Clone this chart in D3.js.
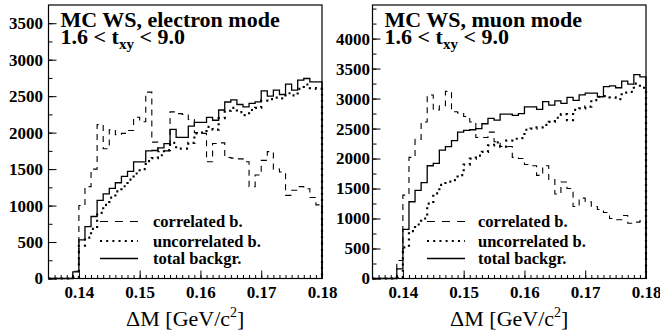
<!DOCTYPE html>
<html><head><meta charset="utf-8">
<script src="https://cdn.jsdelivr.net/npm/d3@7/dist/d3.min.js"></script>
<style>
body{margin:0;background:#fff;}
svg{display:block;}
</style></head>
<body>
<svg id="c" width="660" height="332"></svg>
<script>
// bin lower edges: 0.135 ... 0.179, width 0.001
const binLow = d3.range(45).map(i => +(0.135 + i * 0.001).toFixed(3));
const binWidth = 0.001;

// electron mode
const eCorr = [0,0,0,0,100,1000,1260,1500,2110,1780,2040,1970,1990,2030,2210,2150,2555,1870,1740,1750,2285,2260,2250,2180,2000,1990,1600,1850,1860,1660,1650,1640,1600,1260,1420,1620,1740,1500,1460,1140,1210,1260,1230,1110,1010];
const eUnc  = [0,0,0,0,10,450,560,680,900,1010,1110,1195,1265,1355,1440,1500,1610,1650,1690,1760,1860,1780,1780,1860,1990,2000,2080,2040,2200,2300,2340,2280,2240,2310,2340,2440,2460,2480,2470,2540,2510,2600,2660,2610,2600];
const eTot  = [0,0,0,0,90,530,710,850,1070,1160,1235,1313,1400,1470,1600,1600,1750,1755,1790,1850,2045,1935,1935,2090,2140,2140,2210,2170,2310,2420,2450,2386,2354,2400,2422,2573,2500,2582,2523,2665,2582,2719,2742,2696,2696];

// muon mode
const mCorr = [0,0,0,0,300,1390,2020,2320,2610,3060,2810,2880,3120,2780,2760,2700,2610,2350,2350,2440,2280,2200,2200,2020,2000,1900,1880,1720,1880,1650,1410,1610,1500,1200,1340,1280,1200,1150,1100,1000,980,1050,920,940,960];
const mUnc  = [0,0,0,0,10,520,790,900,1000,1250,1420,1560,1614,1640,1725,1900,2000,2050,2110,2220,2270,2200,2300,2330,2340,2480,2500,2520,2560,2610,2680,2740,2640,2810,2836,2864,2975,3030,3040,3020,2990,3100,3110,3250,3180];
const mTot  = [0,0,0,0,160,820,1280,1470,1600,1880,1920,2140,2200,2300,2440,2470,2480,2500,2580,2670,2640,2740,2740,2720,2750,2860,2860,2820,2950,2890,2960,2920,3020,2970,3060,3090,3090,3030,3200,3210,3180,3290,3240,3400,3360];

const xTicks = [0.14, 0.15, 0.16, 0.17, 0.18];
const yTicksE = [0,500,1000,1500,2000,2500,3000,3500];
const yTicksM = [0,500,1000,1500,2000,2500,3000,3500,4000];
const titles = ["MC WS, electron mode", "MC WS, muon mode"];
const legendLabels = ["correlated b.", "uncorrelated b.", "total backgr."];
const xTitle = "\u0394M [GeV/c";

const FONT = "Liberation Serif";
const styles = [
  {dash:"6,5", w:1.1},
  {dash:"2,4.2", w:2.2},
  {dash:null, w:1.3}
];

const svg = d3.select("#c");

const panels = [
  {x0:48.5, x1:322, ymax:3750, yt:yTicksE, series:[eCorr,eUnc,eTot], title:titles[0], labelEnd:43, leg:[100,138,153]},
  {x0:372.5, x1:646, ymax:4560, yt:yTicksM, series:[mCorr,mUnc,mTot], title:titles[1], labelEnd:370, leg:[427,465,478]}
];
const plotTop = 5, plotBottom = 278.5;

panels.forEach(p => {
  const g = svg.append("g").attr("font-family", FONT);
  const x = d3.scaleLinear().domain([0.135, 0.18]).range([p.x0, p.x1]);
  const y = d3.scaleLinear().domain([0, p.ymax]).range([plotBottom, plotTop]);

  // histograms
  const line = d3.line().x(d => x(d[0])).y(d => y(d[1]));
  p.series.forEach((vals, si) => {
    const pts = [[binLow[0], 0]];
    vals.forEach((v, i) => { pts.push([binLow[i], v]); pts.push([binLow[i] + binWidth, v]); });
    pts.push([binLow[binLow.length-1] + binWidth, 0]);
    const path = g.append("path").attr("d", line(pts))
      .attr("fill","none").attr("stroke","#000")
      .attr("stroke-width", styles[si].w);
    if (styles[si].dash) path.attr("stroke-dasharray", styles[si].dash);
  });

  // frame
  g.append("rect").attr("x", p.x0).attr("y", plotTop).attr("width", p.x1 - p.x0).attr("height", plotBottom - plotTop)
    .attr("fill","none").attr("stroke","#000").attr("stroke-width",1.2);

  // y axis
  const yMinor = d3.range(0, p.ymax, 250);
  const ayMinor = d3.axisLeft(y).tickValues(yMinor).tickSizeInner(-4).tickSizeOuter(0).tickFormat("");
  const gm = g.append("g").attr("transform",`translate(${p.x0},0)`).call(ayMinor);
  gm.select(".domain").remove();
  gm.selectAll("line").attr("stroke","#000").attr("stroke-width",1);
  const ay = d3.axisLeft(y).tickValues(p.yt).tickSizeInner(-8).tickSizeOuter(0)
    .tickFormat(d3.format("d"));
  const ga = g.append("g").attr("transform",`translate(${p.x0},0)`).call(ay);
  ga.attr("font-family", FONT);
  ga.select(".domain").remove();
  ga.selectAll("line").attr("stroke","#000").attr("stroke-width",1);
  ga.selectAll("text").attr("font-size",17).attr("font-weight","bold").attr("fill","#000")
    .attr("x", -(p.x0 - p.labelEnd));

  // x axis
  const axMinor = d3.axisBottom(x).tickValues(binLow.slice(1)).tickSizeInner(-3.5).tickSizeOuter(0).tickFormat("");
  const gxm = g.append("g").attr("transform",`translate(0,${plotBottom})`).call(axMinor);
  gxm.select(".domain").remove();
  gxm.selectAll("line").attr("stroke","#000").attr("stroke-width",1);
  const ax = d3.axisBottom(x).tickValues(xTicks).tickSizeInner(-8).tickSizeOuter(0)
    .tickFormat(d3.format(".2f"));
  const gx = g.append("g").attr("transform",`translate(0,${plotBottom})`).call(ax);
  gx.attr("font-family", FONT);
  gx.select(".domain").remove();
  gx.selectAll("line").attr("stroke","#000").attr("stroke-width",1);
  gx.selectAll("text").attr("font-size",17).attr("font-weight","bold").attr("fill","#000")
    .attr("y", 7);

  // x title
  const xt = g.append("text").attr("x",(p.x0+p.x1)/2).attr("y",326).attr("text-anchor","middle")
    .attr("font-size",22).attr("fill","#000");
  xt.append("tspan").text(xTitle);
  xt.append("tspan").attr("font-size",14).attr("dy",-9).text("2");
  xt.append("tspan").attr("dy",9).text("]");

  // title
  const tx = p.x0 + 12;
  g.append("text").attr("x",tx).attr("y",26.5).attr("font-size",22).attr("font-weight","bold").text(p.title);
  const t2 = g.append("text").attr("x",tx).attr("y",43.5).attr("font-size",22).attr("font-weight","bold");
  t2.append("tspan").text("1.6 < t");
  t2.append("tspan").attr("font-size",15).attr("dy",5).text("xy");
  t2.append("tspan").attr("dy",-5).text(" < 9.0");

  // legend
  const rows = [221.5, 241, 258.5];
  legendLabels.forEach((lab, i) => {
    const l = g.append("line").attr("x1",p.leg[0]).attr("x2",p.leg[1]).attr("y1",rows[i]).attr("y2",rows[i])
      .attr("stroke","#000").attr("stroke-width",styles[i].w);
    if (styles[i].dash) l.attr("stroke-dasharray", i===0 ? "8,7" : styles[i].dash);
    g.append("text").attr("x",p.leg[2]).attr("y",rows[i]+5.5).attr("font-size",16.5).attr("font-weight","bold").text(lab);
  });
});
</script>
</body></html>
